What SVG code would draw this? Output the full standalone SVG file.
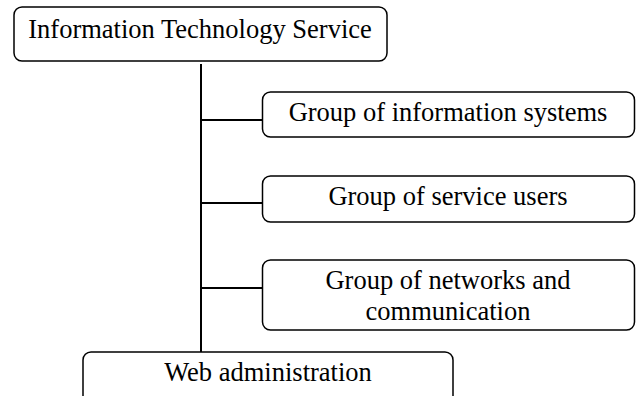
<svg xmlns="http://www.w3.org/2000/svg" width="636" height="396" viewBox="0 0 636 396">
<style>
.box{fill:#fff;stroke:#000;stroke-width:1.5}
.t{font-family:"Liberation Serif","Times New Roman",serif;font-size:26.5px;fill:#000;text-anchor:middle}
.c{stroke:#000;stroke-width:2;fill:none}
</style>
<rect width="636" height="396" fill="#fff"/>
<g id="connectors">
<line class="c" x1="201" y1="64" x2="201" y2="352"/>
<line class="c" x1="201" y1="120" x2="263" y2="120"/>
<line class="c" x1="201" y1="203" x2="263" y2="203"/>
<line class="c" x1="201" y1="288" x2="263" y2="288"/>
</g>
<g id="n_its">
<rect class="box" x="14" y="7" width="373" height="54" rx="8"/>
<text class="t" x="200" y="38">Information Technology Service</text>
</g>
<g id="n_infosys">
<rect class="box" x="262.5" y="92" width="372" height="45" rx="8"/>
<text class="t" x="448" y="121">Group of information systems</text>
</g>
<g id="n_users">
<rect class="box" x="262.5" y="176" width="372" height="46" rx="8"/>
<text class="t" x="448" y="205">Group of service users</text>
</g>
<g id="n_networks">
<rect class="box" x="262.5" y="260" width="372" height="70" rx="8"/>
<text class="t" x="448" y="289">Group of networks and</text>
<text class="t" x="448" y="320">communication</text>
</g>
<g id="n_web">
<rect class="box" x="83" y="352" width="370" height="56" rx="8"/>
<text class="t" x="268" y="381">Web administration</text>
</g>
</svg>
